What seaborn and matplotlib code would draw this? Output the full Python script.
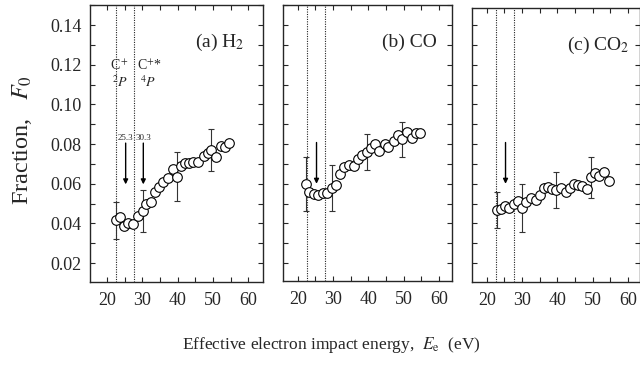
import numpy as np
import pandas as pd
import matplotlib
matplotlib.use("Agg")
import matplotlib.pyplot as plt
from matplotlib.ticker import MultipleLocator
import seaborn as sns

# ---- data ----
energy_h2 = [22.6, 23.8, 24.9, 26.0, 27.5, 28.7, 30.1, 31.2, 32.5, 33.6, 34.8, 36.0, 37.2, 38.6,
             39.7, 41.0, 42.1, 43.3, 44.5, 45.9, 47.4, 48.5, 49.6, 50.9, 52.3, 53.4, 54.6]
frac_h2 = [0.0417, 0.0431, 0.0387, 0.0404, 0.0396, 0.0437, 0.0464, 0.0498, 0.0509, 0.0560, 0.0585,
           0.0607, 0.0627, 0.0673, 0.0636, 0.0689, 0.0703, 0.0706, 0.0708, 0.0711, 0.0740, 0.0753,
           0.0770, 0.0733, 0.0790, 0.0787, 0.0807]
err_idx = [0, 6, 14, 22]
err_h2 = [0.0093, 0.0107, 0.0125, 0.0108]

energy_co = [22.3, 23.3, 24.5, 25.7, 27.0, 28.3, 29.6, 30.9, 32.0, 33.2, 34.4, 35.9, 37.0, 38.3,
             39.6, 40.7, 41.9, 43.1, 44.6, 45.7, 47.2, 48.4, 49.6, 51.0, 52.3, 53.5, 54.7]
frac_co = [0.0599, 0.0560, 0.0548, 0.0543, 0.0552, 0.0555, 0.0580, 0.0594, 0.0649, 0.0683, 0.0694,
           0.0689, 0.0723, 0.0745, 0.0761, 0.0778, 0.0800, 0.0767, 0.0800, 0.0787, 0.0817, 0.0846,
           0.0824, 0.0862, 0.0829, 0.0854, 0.0854]
err_co = [0.0137, 0.0115, 0.0090, 0.0089]

energy_co2 = [22.8, 23.9, 25.1, 26.3, 27.7, 28.9, 30.1, 31.2, 32.5, 33.8, 35.0, 36.2, 37.4, 38.6,
              39.7, 41.0, 42.3, 43.5, 44.8, 45.9, 47.1, 48.3, 49.5, 50.6, 51.8, 53.1, 54.6]
frac_co2 = [0.0468, 0.0473, 0.0489, 0.0476, 0.0498, 0.0513, 0.0479, 0.0510, 0.0527, 0.0518, 0.0543,
            0.0577, 0.0585, 0.0572, 0.0568, 0.0577, 0.0560, 0.0580, 0.0599, 0.0594, 0.0590, 0.0572,
            0.0632, 0.0653, 0.0639, 0.0661, 0.0615]
err_co2 = [0.0093, 0.0122, 0.0089, 0.0102]

threshold_lines = [22.6, 27.7]
panel_titles = ["(a) H$_2$", "(b) CO", "(c) CO$_2$"]
arrow_x = [25.3, 30.3]
arrow_labels = ["25.3", "30.3"]
y_ticks = [0.02, 0.04, 0.06, 0.08, 0.10, 0.12, 0.14]
x_ticks = [20, 30, 40, 50, 60]

# ---- style ----
sns.set_style("ticks")
plt.rcParams["font.family"] = ["Liberation Serif", "DejaVu Serif"]
plt.rcParams["mathtext.fontset"] = "stix"
plt.rcParams["xtick.direction"] = "in"
plt.rcParams["ytick.direction"] = "in"

W, H = 640, 366
fig = plt.figure(figsize=(6.4, 3.66), dpi=100)

def px_axes(l, t, r, b):
    return fig.add_axes([l / W, 1 - b / H, (r - l) / W, (b - t) / H])

panels = [
    dict(box=(90, 5, 263, 282), xlim=(15.2, 64.2), ylim=(0.0105, 0.1501),
         x=energy_h2, y=frac_h2, e=err_h2, tx=0.895),
    dict(box=(283, 5, 452, 281), xlim=(15.8, 63.7), ylim=(0.0110, 0.1501),
         x=energy_co, y=frac_co, e=err_co, tx=0.91),
    dict(box=(472, 8, 640, 282), xlim=(15.8, 63.4), ylim=(0.0105, 0.1486),
         x=energy_co2, y=frac_co2, e=err_co2, tx=0.94),
]

for i, p in enumerate(panels):
    ax = px_axes(*p["box"])
    df = pd.DataFrame({"E": p["x"], "F": p["y"]})
    # error bars
    ex = [p["x"][k] for k in err_idx]
    ey = [p["y"][k] for k in err_idx]
    ax.errorbar(ex, ey, yerr=p["e"], fmt="none", ecolor="#333333", elinewidth=0.8,
                capsize=2.5, capthick=0.8, zorder=2)
    # dotted threshold lines
    for xv in threshold_lines:
        ax.axvline(xv, color="#222222", lw=0.8, ls=(0, (1, 1.2)), zorder=1)
    sns.scatterplot(data=df, x="E", y="F", ax=ax, marker="o", s=48,
                    facecolor="white", edgecolor="black", linewidth=0.8, zorder=3, legend=False)
    ax.set_xlim(*p["xlim"])
    ax.set_ylim(*p["ylim"])
    ax.set_xticks(x_ticks)
    ax.xaxis.set_minor_locator(MultipleLocator(5))
    ax.set_yticks(y_ticks)
    ax.yaxis.set_minor_locator(MultipleLocator(0.01))
    ax.tick_params(which="both", top=True, right=True, length=3.5, width=0.8, labelsize=13)
    ax.tick_params(axis="x", pad=7)
    ax.tick_params(axis="y", pad=6)
    ax.set_xlabel("")
    ax.set_ylabel("")
    for sp in ax.spines.values():
        sp.set_linewidth(1.0)
    if i == 0:
        ax.set_yticklabels([f"{v:.2f}" for v in y_ticks])
        for ax_x, lab in zip(arrow_x, arrow_labels):
            ax.annotate("", xy=(ax_x, 0.0597), xytext=(ax_x, 0.0805),
                        arrowprops=dict(arrowstyle="-|>", color="black", lw=1.0,
                                        mutation_scale=7, shrinkA=0, shrinkB=0))
            ax.text(ax_x, 0.0812, lab, fontsize=6.5, ha="center", va="bottom")
        ax.text(23.7, 0.1195, "C$^+$", fontsize=10, ha="center", va="center")
        ax.text(23.8, 0.1110, "$^2P$", fontsize=10, ha="center", va="center")
        ax.text(32.0, 0.1195, "C$^{+}$*", fontsize=10, ha="center", va="center")
        ax.text(31.7, 0.1110, "$^4P$", fontsize=10, ha="center", va="center")
    else:
        ax.set_yticklabels([])
        ax.annotate("", xy=(25.3, 0.0600), xytext=(25.3, 0.0808),
                    arrowprops=dict(arrowstyle="-|>", color="black", lw=1.0,
                                    mutation_scale=7, shrinkA=0, shrinkB=0))
    ax.text(p["tx"], 0.865, panel_titles[i], transform=ax.transAxes, fontsize=14,
            ha="right", va="center")

fig.text(22 / W, 1 - 140 / H, "Fraction,   $F_0$", rotation=90, fontsize=17.5,
         ha="center", va="center")
fig.text(331 / W, 1 - 345 / H, "Effective electron impact energy,  $E_\\mathrm{e}$  (eV)",
         fontsize=12.5, ha="center", va="center")

fig.savefig("out.png", dpi=100)
